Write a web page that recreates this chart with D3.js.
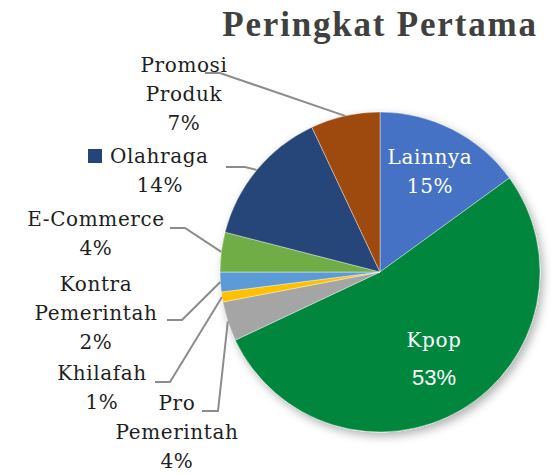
<!DOCTYPE html>
<html>
<head>
<meta charset="utf-8">
<script src="https://cdn.jsdelivr.net/npm/d3@7"></script>
<style>
  body { margin: 0; background: #fff; }
  svg { display: block; }
  .lbl { font-family: "DejaVu Serif", serif; font-size: 20px; letter-spacing: 0.6px; }
  .sans { font-family: "Liberation Sans", Arial, sans-serif; font-size: 22px; }
</style>
</head>
<body>
<svg id="chart" width="551" height="474"></svg>
<script>
// data
const categories = ["Lainnya", "Kpop", "Pro Pemerintah", "Khilafah", "Kontra Pemerintah", "E-Commerce", "Olahraga", "Promosi Produk"];
const values = [15, 53, 4, 1, 2, 4, 14, 7];
const sliceColors = ["#4472C4", "#03873D", "#A5A5A5", "#FFC000", "#5B9BD5", "#70AD47", "#264478", "#9E480E"];
const title = "Peringkat Pertama";

const width = 551, height = 474;
const cx = 380, cy = 272, radius = 160;

const svg = d3.select("#chart");

// shadow
const defs = svg.append("defs");
const filter = defs.append("filter").attr("id", "shadow")
  .attr("x", "-20%").attr("y", "-20%").attr("width", "140%").attr("height", "140%");
filter.append("feDropShadow")
  .attr("dx", 3).attr("dy", 4).attr("stdDeviation", 5)
  .attr("flood-color", "#000").attr("flood-opacity", 0.3);

// title
svg.append("text")
  .attr("x", 380).attr("y", 36)
  .attr("text-anchor", "middle")
  .style("font-family", "'Liberation Serif', serif")
  .style("font-weight", "bold")
  .style("font-size", "35px")
  .style("letter-spacing", "1.8px")
  .attr("fill", "#404040")
  .text(title);

const color = d3.scaleOrdinal().domain(categories).range(sliceColors);
const total = d3.sum(values);

const pie = d3.pie().sort(null).value(d => d.value);
const arcs = pie(categories.map((c, i) => ({ name: c, value: values[i] })));
const arc = d3.arc().innerRadius(0).outerRadius(radius);

const g = svg.append("g").attr("transform", `translate(${cx},${cy})`);

g.append("g").attr("filter", "url(#shadow)")
  .selectAll("path")
  .data(arcs)
  .enter()
  .append("path")
  .attr("d", arc)
  .attr("fill", d => color(d.data.name))
  .attr("stroke", "#fff")
  .attr("stroke-width", 0.4);

const pct = d => Math.round(d.data.value / total * 100) + "%";

// label layout (outside labels get leader lines)
const labelLayout = {
  "Lainnya":           { x: 430, y: 164, lines: ["Lainnya"], inside: true },
  "Kpop":              { x: 434, y: 347, lines: ["Kpop"], inside: true, sansPct: true, gap: 38 },
  "Pro Pemerintah":    { x: 177, y: 410, lines: ["Pro", "Pemerintah"], lx: 202, ly: 411, ex: 218 },
  "Khilafah":          { x: 102, y: 380, lines: ["Khilafah"], lx: 155, ly: 382, ex: 170 },
  "Kontra Pemerintah": { x: 96, y: 291, lines: ["Kontra", "Pemerintah"], lx: 167, ly: 320, ex: 182 },
  "E-Commerce":        { x: 96, y: 226, lines: ["E-Commerce"], lx: 170, ly: 228, ex: 185 },
  "Olahraga":          { x: 160, y: 163, lines: ["Olahraga"], lx: 226, ly: 167, ex: 245, marker: true },
  "Promosi Produk":    { x: 184, y: 72, lines: ["Promosi", "Produk"], lx: 205, ly: 73, ex: 220 }
};

const lineH = 29;

arcs.forEach(d => {
  const L = labelLayout[d.data.name];
  const mid = (d.startAngle + d.endAngle) / 2;

  if (!L.inside) {
    const px = cx + radius * Math.sin(mid);
    const py = cy - radius * Math.cos(mid);
    svg.append("polyline")
      .attr("points", `${L.lx},${L.ly} ${L.ex},${L.ly} ${px},${py}`)
      .attr("fill", "none")
      .attr("stroke", "#8c8c8c")
      .attr("stroke-width", 2);
  }

  const fill = L.inside ? "#fff" : "#1e1e1e";
  const t = svg.append("g");
  const allLines = L.lines.concat([pct(d)]);
  allLines.forEach((s, i) => {
    const isPct = i === allLines.length - 1;
    let y = L.y + i * lineH;
    if (isPct && L.gap) y = L.y + (i - 1) * lineH + L.gap;
    const txt = t.append("text")
      .attr("class", (isPct && L.sansPct) ? "sans" : "lbl")
      .attr("y", y)
      .attr("fill", fill)
      .text(s);
    if (L.marker && i === 0) {
      txt.attr("x", 110).attr("text-anchor", "start");
      svg.append("rect")
        .attr("x", 88).attr("y", 149).attr("width", 14).attr("height", 14)
        .attr("fill", color(d.data.name));
    } else {
      txt.attr("x", L.x).attr("text-anchor", "middle");
    }
  });
});
</script>
</body>
</html>
